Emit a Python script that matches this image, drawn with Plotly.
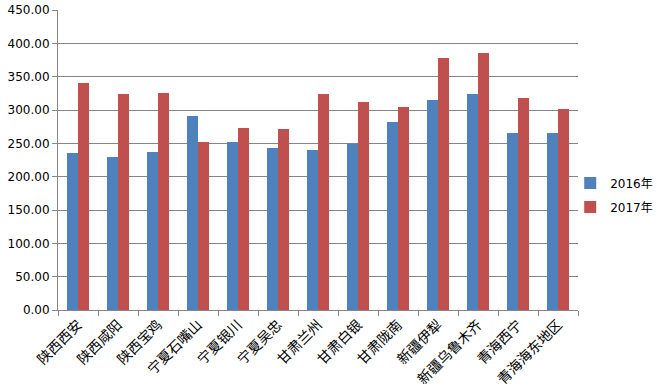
import plotly.graph_objects as go

categories = ["陕西西安", "陕西咸阳", "陕西宝鸡", "宁夏石嘴山", "宁夏银川", "宁夏吴忠", "甘肃兰州",
              "甘肃白银", "甘肃陇南", "新疆伊犁", "新疆乌鲁木齐", "青海西宁", "青海海东地区"]
values_2016 = [235.5, 229.5, 237, 291, 252, 243, 240, 249.5, 282, 315, 324, 265.5, 265.5]
values_2017 = [340.5, 324, 325.5, 252, 273, 271.5, 324, 312, 304.5, 378, 385.5, 318, 301.5]
y_ticks = [0, 50, 100, 150, 200, 250, 300, 350, 400, 450]

fig = go.Figure()
fig.add_bar(x=categories, y=values_2016, name="2016年", legendgroup="a",
            marker=dict(color="#4F81BD", line=dict(width=0)))
fig.add_bar(x=categories, y=values_2017, name="2017年", legendgroup="b",
            marker=dict(color="#C0504D", line=dict(width=0)))

fig.update_layout(
    width=657, height=389,
    margin=dict(l=58, r=79, t=10, b=79, autoexpand=False),
    paper_bgcolor="white", plot_bgcolor="white",
    barmode="group", bargap=0.45, bargroupgap=0,
    font=dict(family="Noto Sans CJK SC, DejaVu Sans", size=12, color="black"),
    legend=dict(x=0.985, xanchor="left", y=0.383, yanchor="middle",
                bgcolor="rgba(0,0,0,0)",
                font=dict(size=12, family="DejaVu Sans, Noto Sans CJK SC"),
                tracegroupgap=5, traceorder="grouped", itemwidth=30),
    showlegend=True,
)
fig.update_xaxes(
    automargin=False,
    showline=True, linecolor="#868686", linewidth=1,
    ticks="outside", tickson="boundaries", ticklen=5, tickcolor="#868686",
    tickangle=-45, tickfont=dict(size=14, family="Noto Sans CJK SC"),
    showgrid=False,
)
fig.update_yaxes(
    automargin=False,
    range=[0, 450], tickvals=y_ticks, tickformat=".2f",
    showline=True, linecolor="#868686", linewidth=1,
    ticks="outside", ticklen=5, tickcolor="#868686",
    showgrid=True, gridcolor="#868686", gridwidth=1,
    tickfont=dict(size=12, family="DejaVu Sans"),
    zeroline=False,
)
fig.write_html("out.html", config={"displayModeBar": False},
               post_script="document.body.style.margin='0';")
